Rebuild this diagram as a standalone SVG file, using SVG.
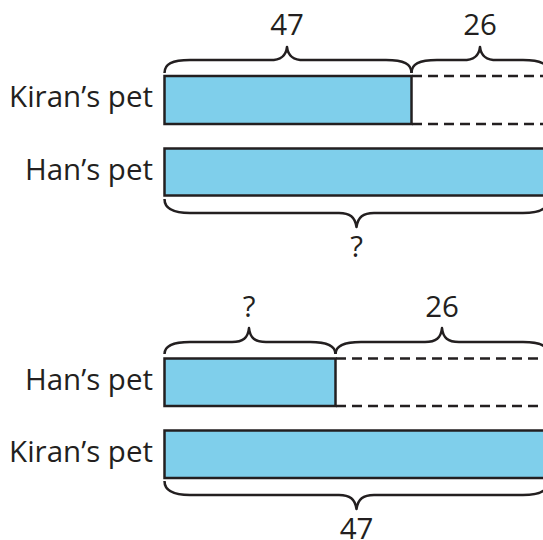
<svg xmlns="http://www.w3.org/2000/svg" width="543" height="540" viewBox="0 0 543 540">
<style>
.bar{fill:#7fcfeb;stroke:#231f20;stroke-width:2.5}
.dash{fill:none;stroke:#231f20;stroke-width:2.5;stroke-dasharray:10 6}
.brace{fill:none;stroke:#231f20;stroke-width:2.5;stroke-linejoin:round}
.lbl{font-family:"Open Sans","Noto Sans","DejaVu Sans",sans-serif;font-size:29.5px;fill:#231f20}
.r{text-anchor:end}
.m{text-anchor:middle}
</style>
<rect width="543" height="540" fill="#fff"/>
<g id="top">
  <g id="kiran1">
    <text class="lbl r" x="153" y="107">Kiran’s pet</text>
    <rect class="bar" x="164.5" y="76" width="247" height="48"/>
    <path class="dash" d="M412 76 H548 M412 124 H548"/>
  </g>
  <g id="han1">
    <text class="lbl r" x="153" y="180">Han’s pet</text>
    <rect class="bar" x="164.5" y="148.5" width="390" height="47"/>
  </g>
  <g id="braces1">
    <path class="brace" d="M164.5 73 C164.5 64 172 60 190 60 L270 60 C281 60 286 56 287 47 C288 56 293 60 304 60 L386 60 C404 60 411.5 64 411.5 73"/>
    <path class="brace" d="M411.5 73 C411.5 64 419 60 437 60 L463 60 C474 60 479 56 480 47 C481 56 486 60 497 60 L523 60 C541 60 548.5 64 548.5 73"/>
    <path class="brace" d="M164.5 199 C164.5 208 172 213 190 213 L339 213 C350 213 355 217 356.5 227 C358 217 363 213 374 213 L523 213 C541 213 548.5 208 548.5 199"/>
    <text class="lbl m" x="287" y="35">47</text>
    <text class="lbl m" x="480" y="35">26</text>
    <text class="lbl m" x="356.5" y="257">?</text>
  </g>
</g>
<g id="bottom">
  <g id="han2">
    <text class="lbl r" x="153" y="390">Han’s pet</text>
    <rect class="bar" x="164.5" y="358.5" width="171" height="47.5"/>
    <path class="dash" d="M336 358.5 H548 M336 406 H548"/>
  </g>
  <g id="kiran2">
    <text class="lbl r" x="153" y="462">Kiran’s pet</text>
    <rect class="bar" x="164.5" y="430.5" width="390" height="47.5"/>
  </g>
  <g id="braces2">
    <path class="brace" d="M164.5 354 C164.5 346 172 342 190 342 L232 342 C243 342 248 338 249 328 C250 338 255 342 266 342 L310 342 C328 342 335.5 346 335.5 354"/>
    <path class="brace" d="M335.5 354 C335.5 346 343 342 361 342 L425 342 C436 342 441 338 442 328 C443 338 448 342 459 342 L523 342 C541 342 548.5 346 548.5 354"/>
    <path class="brace" d="M164.5 481 C164.5 490 172 495 190 495 L339 495 C350 495 355 499 356.5 509 C358 499 363 495 374 495 L523 495 C541 495 548.5 490 548.5 481"/>
    <text class="lbl m" x="249" y="317">?</text>
    <text class="lbl m" x="442" y="317">26</text>
    <text class="lbl m" x="356.5" y="539">47</text>
  </g>
</g>
</svg>
